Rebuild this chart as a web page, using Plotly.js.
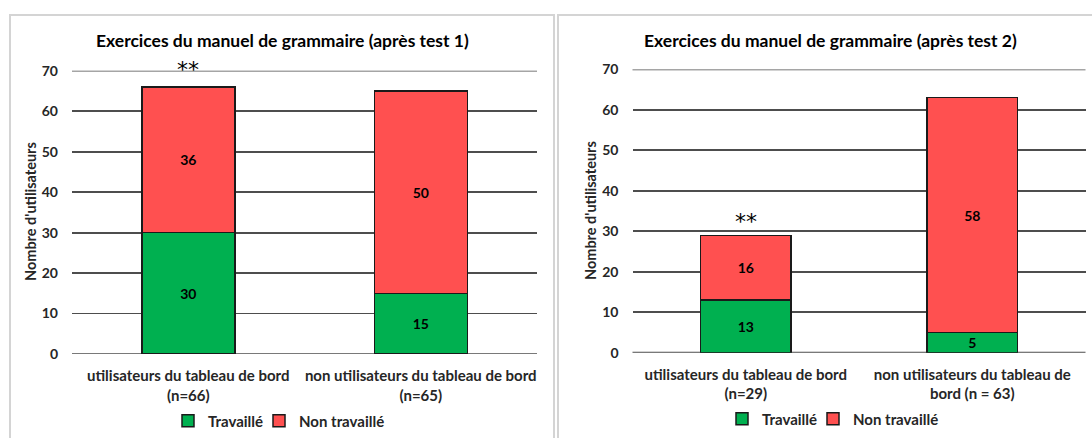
<!DOCTYPE html>
<html>
<head>
<meta charset="utf-8">
<script src="https://cdn.plot.ly/plotly-3.0.1.min.js"></script>
<style>html,body{margin:0;padding:0;background:#fff;}#chart{width:1092px;height:438px;}</style>
</head>
<body>
<div id="chart"></div>
<script>
// Data
const categories1 = ["utilisateurs du tableau de bord<br>(n=66)", "non utilisateurs du tableau de bord<br>(n=65)"];
const travaille1 = [30, 15];
const nonTravaille1 = [36, 50];
const categories2 = ["utilisateurs du tableau de bord<br>(n=29)", "non utilisateurs du tableau de<br>bord (n = 63)"];
const travaille2 = [13, 5];
const nonTravaille2 = [16, 58];
const seriesNames = ["Travaillé", "Non travaillé"];
const titles = ["Exercices du manuel de grammaire (après test 1)", "Exercices du manuel de grammaire (après test 2)"];
const yTitle = "Nombre d'utilisateurs";
const significance = "**";
const yMax = 70;

const W = 1092, H = 438;
const FONT = "Lato, 'Open Sans', sans-serif";
const green = "#00B050", red = "#FF5050";
const gridColor = "#4d4d4d";

function barTrace(x, y, name, color, xa, ya, legend) {
  return {
    type: "bar", x: x, y: y, name: name, xaxis: xa, yaxis: ya, legend: legend,
    marker: {color: color, line: {color: "#1a1a1a", width: 1.5}},
    width: 0.4,
    text: y.map(String), textposition: "inside", insidetextanchor: "middle", textangle: 0,
    textfont: {family: FONT, size: 14, color: "#000", weight: "bold"},
    constraintext: "none", hoverinfo: "skip"
  };
}

const data = [
  barTrace(categories1, travaille1, seriesNames[0], green, "x", "y", "legend"),
  barTrace(categories1, nonTravaille1, seriesNames[1], red, "x", "y", "legend3"),
  barTrace(categories2, travaille2, seriesNames[0], green, "x2", "y2", "legend2"),
  barTrace(categories2, nonTravaille2, seriesNames[1], red, "x2", "y2", "legend4")
];

const xaxisBase = {
  showgrid: false, zeroline: false, showline: false, ticks: "", ticklabelstandoff: 11,
  tickfont: {family: FONT, size: 15, color: "#262626", weight: "bold"},
  fixedrange: true
};
const yaxisBase = {
  range: [0, yMax], dtick: 10, tick0: 0, showgrid: true, gridcolor: gridColor, gridwidth: 1.8,
  zeroline: false, showline: false, ticks: "", ticklabelstandoff: 13,
  tickfont: {family: FONT, size: 14, color: "#262626", weight: "bold"},
  fixedrange: true
};

function edgeLine(xd, ya, yv) {
  return {type: "line", xref: xd, yref: ya, x0: 0, x1: 1, y0: yv, y1: yv, layer: "below",
          line: {color: gridColor, width: 1.8}};
}

const legendFont = {family: FONT, size: 15, color: "#262626", weight: "bold"};
function legendAt(px, py) {
  return {orientation: "h", x: px / W, xanchor: "left", y: 1 - py / H, yanchor: "middle",
          font: legendFont, bgcolor: "rgba(0,0,0,0)"};
}

const layout = {
  width: W, height: H,
  margin: {l: 0, r: 0, t: 0, b: 0},
  paper_bgcolor: "#fff", plot_bgcolor: "#fff",
  barmode: "stack",
  showlegend: true,
  xaxis: Object.assign({}, xaxisBase, {domain: [72 / W, 537 / W], anchor: "y"}),
  yaxis: Object.assign({}, yaxisBase, {domain: [1 - 355.7 / H, 1 - 71 / H], anchor: "x"}),
  xaxis2: Object.assign({}, xaxisBase, {domain: [632.5 / W, 1085.5 / W], anchor: "y2"}),
  yaxis2: Object.assign({}, yaxisBase, {domain: [1 - 354.3 / H, 1 - 69.7 / H], anchor: "x2"}),
  legend: legendAt(168, 423),
  legend3: legendAt(259, 423),
  legend2: legendAt(722, 421),
  legend4: legendAt(813, 421),
  shapes: [
    {type: "rect", xref: "paper", yref: "paper", x0: 10 / W, x1: 554 / W, y0: -0.05, y1: 1 - 15 / H,
     line: {color: "#d4d4d4", width: 2}},
    {type: "rect", xref: "paper", yref: "paper", x0: 558 / W, x1: 1.05, y0: -0.05, y1: 1 - 15 / H,
     line: {color: "#d4d4d4", width: 2}},
    edgeLine("x domain", "y", 0), edgeLine("x domain", "y", yMax),
    edgeLine("x2 domain", "y2", 0), edgeLine("x2 domain", "y2", yMax)
  ],
  annotations: [
    {text: titles[0], xref: "paper", yref: "paper", x: 282 / W, y: 1 - 41 / H, showarrow: false,
     xanchor: "center", yanchor: "middle", font: {family: FONT, size: 17.5, color: "#000", weight: "bold"}},
    {text: titles[1], xref: "paper", yref: "paper", x: 830 / W, y: 1 - 41 / H, showarrow: false,
     xanchor: "center", yanchor: "middle", font: {family: FONT, size: 17.5, color: "#000", weight: "bold"}},
    {text: yTitle, xref: "paper", yref: "paper", x: 30 / W, y: 1 - 213 / H, showarrow: false, textangle: -90,
     xanchor: "center", yanchor: "middle", font: {family: FONT, size: 14.5, color: "#262626", weight: "bold"}},
    {text: yTitle, xref: "paper", yref: "paper", x: 590 / W, y: 1 - 212 / H, showarrow: false, textangle: -90,
     xanchor: "center", yanchor: "middle", font: {family: FONT, size: 14.5, color: "#262626", weight: "bold"}},
    {text: significance, xref: "x", yref: "paper", x: categories1[0], y: 1 - 70 / H, showarrow: false,
     xanchor: "center", yanchor: "middle", font: {family: "DejaVu Sans, sans-serif", size: 22, color: "#000"}},
    {text: significance, xref: "x2", yref: "y2", x: categories2[0], y: 32.5, showarrow: false,
     xanchor: "center", yanchor: "middle", font: {family: "DejaVu Sans, sans-serif", size: 22, color: "#000"}}
  ]
};

Plotly.newPlot("chart", data, layout, {displayModeBar: false, staticPlot: true});
</script>
</body>
</html>
